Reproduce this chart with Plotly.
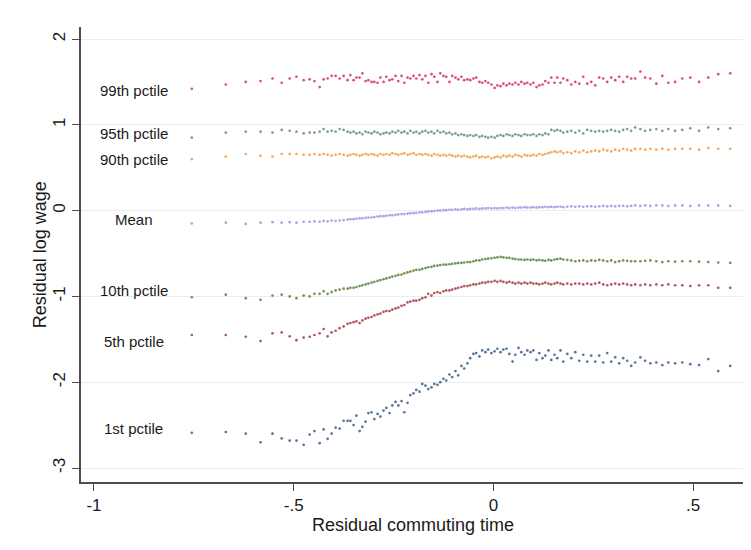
import plotly.graph_objects as go

# ---------------- data ----------------
commute_x = [
    -0.755, -0.670, -0.620, -0.583, -0.553, -0.530, -0.510, -0.493, -0.475, -0.460, -0.448, -0.435, -0.425, -0.415, -0.405, -0.395,
    -0.385, -0.375, -0.365,
    -0.358, -0.350, -0.343, -0.335, -0.328, -0.320, -0.313, -0.305, -0.298, -0.290, -0.283, -0.275,
    -0.268, -0.260, -0.253, -0.245, -0.238, -0.230, -0.223, -0.215, -0.208, -0.200, -0.193, -0.185,
    -0.178, -0.170, -0.163, -0.155, -0.148, -0.140, -0.133, -0.125, -0.118, -0.110, -0.103, -0.095,
    -0.088, -0.080, -0.073, -0.065, -0.058, -0.050, -0.043, -0.035, -0.028, -0.020, -0.013, -0.005,
    0.003, 0.010, 0.018, 0.025, 0.033, 0.040, 0.048, 0.055, 0.063, 0.070, 0.078, 0.085,
    0.093, 0.100, 0.108, 0.115, 0.123, 0.130, 0.138, 0.145, 0.153, 0.160, 0.168, 0.175,
    0.185, 0.195, 0.205, 0.215, 0.225, 0.235, 0.245, 0.255, 0.265, 0.275, 0.285, 0.295, 0.305, 0.315, 0.325, 0.335, 0.345, 0.355,
    0.368, 0.380, 0.393, 0.408, 0.423, 0.438, 0.455, 0.473, 0.493, 0.515, 0.538, 0.563, 0.593,
]

p99 = [
    1.42, 1.47, 1.50, 1.51, 1.54, 1.49, 1.54, 1.56, 1.52, 1.53, 1.51, 1.44, 1.53, 1.54, 1.57, 1.57,
    1.54, 1.57, 1.52,
    1.58, 1.52, 1.55, 1.55, 1.60, 1.51, 1.52, 1.50, 1.50, 1.49, 1.55, 1.50,
    1.56, 1.52, 1.53, 1.57, 1.51, 1.57, 1.49, 1.55, 1.54, 1.57, 1.54, 1.58,
    1.53, 1.57, 1.49, 1.59, 1.56, 1.50, 1.60, 1.57, 1.56, 1.50, 1.57, 1.55,
    1.53, 1.56, 1.52, 1.53, 1.52, 1.54, 1.55, 1.50, 1.49, 1.51, 1.49, 1.47,
    1.43, 1.46, 1.45, 1.48, 1.46, 1.48, 1.47, 1.49, 1.47, 1.50, 1.48, 1.49,
    1.47, 1.49, 1.44, 1.46, 1.47, 1.51, 1.49, 1.55, 1.49, 1.55, 1.49, 1.54,
    1.52, 1.47, 1.50, 1.48, 1.56, 1.48, 1.50, 1.46, 1.55, 1.54, 1.50, 1.55, 1.52, 1.56, 1.50, 1.56, 1.54, 1.54,
    1.62, 1.55, 1.54, 1.48, 1.57, 1.49, 1.50, 1.54, 1.55, 1.50, 1.55, 1.59, 1.60,
]

p95 = [
    0.85, 0.91, 0.92, 0.92, 0.91, 0.94, 0.93, 0.92, 0.90, 0.91, 0.91, 0.92, 0.95, 0.92, 0.93, 0.92,
    0.95, 0.94, 0.92,
    0.91, 0.92, 0.90, 0.91, 0.89, 0.92, 0.91, 0.90, 0.92, 0.91, 0.89, 0.90,
    0.91, 0.90, 0.92, 0.91, 0.93, 0.91, 0.92, 0.90, 0.93, 0.91, 0.92, 0.90,
    0.92, 0.93, 0.91, 0.92, 0.90, 0.93, 0.91, 0.92, 0.90, 0.91, 0.89, 0.90,
    0.88, 0.89, 0.88, 0.87, 0.88, 0.87, 0.88, 0.86, 0.87, 0.86, 0.85, 0.86,
    0.85, 0.87, 0.88, 0.87, 0.89, 0.88, 0.87, 0.89, 0.88, 0.87, 0.89, 0.88,
    0.88, 0.89, 0.87, 0.89, 0.88, 0.90, 0.89, 0.94, 0.93, 0.94, 0.93, 0.91,
    0.92, 0.93, 0.91, 0.93, 0.90, 0.94, 0.93, 0.92, 0.93, 0.92, 0.93, 0.94, 0.93, 0.92, 0.94, 0.95, 0.93, 0.97,
    0.95, 0.93, 0.94, 0.95, 0.93, 0.95, 0.93, 0.94, 0.96, 0.93, 0.97, 0.95, 0.96,
]

p90 = [
    0.60, 0.63, 0.66, 0.64, 0.63, 0.66, 0.66, 0.66, 0.65, 0.65, 0.66, 0.65, 0.66, 0.65, 0.64, 0.65,
    0.66, 0.65, 0.64,
    0.65, 0.66, 0.65, 0.64, 0.65, 0.66, 0.65, 0.66, 0.65, 0.64, 0.66, 0.65,
    0.66, 0.65, 0.67, 0.66, 0.65, 0.66, 0.67, 0.65, 0.66, 0.67, 0.65, 0.66,
    0.65, 0.66, 0.65, 0.64, 0.66, 0.65, 0.64, 0.65, 0.64, 0.65, 0.64, 0.63,
    0.64, 0.63, 0.64, 0.63, 0.62, 0.63, 0.64, 0.62, 0.63, 0.62, 0.63, 0.61,
    0.62, 0.63, 0.62, 0.64, 0.63, 0.64, 0.63, 0.65, 0.64, 0.63, 0.65, 0.64,
    0.64, 0.65, 0.64, 0.66, 0.65, 0.66, 0.67, 0.68, 0.69, 0.68, 0.69, 0.67,
    0.68, 0.67, 0.69, 0.68, 0.70, 0.68, 0.69, 0.70, 0.69, 0.71, 0.70, 0.69, 0.71, 0.70, 0.72, 0.71, 0.70, 0.72,
    0.72, 0.71, 0.72, 0.71, 0.72, 0.71, 0.72, 0.72, 0.72, 0.71, 0.73, 0.72, 0.72,
]

mean = [
    -0.150, -0.140, -0.155, -0.140, -0.135, -0.140, -0.135, -0.140, -0.130, -0.130, -0.125, -0.130, -0.120, -0.125, -0.115, -0.120,
    -0.115, -0.110, -0.105,
    -0.100, -0.100, -0.095, -0.090, -0.090, -0.085, -0.080, -0.080, -0.075, -0.070, -0.065, -0.065,
    -0.060, -0.055, -0.055, -0.050, -0.045, -0.040, -0.040, -0.035, -0.030, -0.030, -0.025, -0.020,
    -0.020, -0.015, -0.010, -0.010, -0.005, 0.000, 0.000, 0.005, 0.005, 0.010, 0.010, 0.015,
    0.010, 0.015, 0.020, 0.015, 0.020, 0.020, 0.025, 0.020, 0.025, 0.025, 0.030, 0.025,
    0.030, 0.025, 0.030, 0.030, 0.035, 0.030, 0.035, 0.030, 0.035, 0.035, 0.040, 0.035,
    0.035, 0.040, 0.035, 0.040, 0.040, 0.045, 0.040, 0.045, 0.040, 0.045, 0.045, 0.040,
    0.045, 0.050, 0.045, 0.050, 0.045, 0.050, 0.050, 0.045, 0.050, 0.055, 0.050, 0.055, 0.050, 0.055, 0.055, 0.050, 0.055, 0.060,
    0.055, 0.060, 0.055, 0.060, 0.060, 0.055, 0.060, 0.060, 0.055, 0.060, 0.060, 0.060, 0.055,
]

p10 = [
    -1.01, -0.98, -1.02, -1.04, -0.99, -0.98, -1.00, -1.02, -0.99, -1.00, -0.97, -0.97, -0.94, -0.97, -0.95, -0.93,
    -0.92, -0.91, -0.91,
    -0.90, -0.90, -0.89, -0.88, -0.87, -0.86, -0.85, -0.84, -0.83, -0.82, -0.81, -0.80,
    -0.79, -0.78, -0.77, -0.76, -0.75, -0.745, -0.73, -0.72, -0.71, -0.70, -0.69, -0.69,
    -0.68, -0.67, -0.66, -0.655, -0.645, -0.64, -0.635, -0.63, -0.63, -0.625, -0.62, -0.615,
    -0.61, -0.61, -0.605, -0.60, -0.60, -0.59, -0.58, -0.58, -0.57, -0.565, -0.56, -0.555,
    -0.55, -0.545, -0.54, -0.545, -0.55, -0.55, -0.56, -0.565, -0.57, -0.57, -0.575, -0.57,
    -0.575, -0.57, -0.58, -0.575, -0.58, -0.585, -0.575, -0.58, -0.57, -0.565, -0.56, -0.57,
    -0.575, -0.58, -0.59, -0.585, -0.58, -0.59, -0.58, -0.585, -0.575, -0.58, -0.59, -0.58, -0.60, -0.59, -0.58, -0.585, -0.59, -0.59,
    -0.59, -0.585, -0.58, -0.59, -0.60, -0.59, -0.595, -0.59, -0.59, -0.595, -0.60, -0.605, -0.61,
]

p5 = [
    -1.45, -1.45, -1.47, -1.52, -1.43, -1.42, -1.465, -1.51, -1.48, -1.47, -1.45, -1.43, -1.38, -1.465, -1.42, -1.40,
    -1.37, -1.35, -1.32,
    -1.31, -1.30, -1.29, -1.31, -1.28, -1.26, -1.25, -1.24, -1.22, -1.21, -1.20, -1.18,
    -1.17, -1.17, -1.155, -1.14, -1.13, -1.11, -1.10, -1.07, -1.06, -1.05, -1.05, -1.04,
    -1.02, -1.01, -0.97, -0.99, -0.96, -0.95, -0.96, -0.94, -0.93, -0.93, -0.92, -0.91,
    -0.90, -0.89, -0.88, -0.88, -0.87, -0.86, -0.86, -0.85, -0.84, -0.84, -0.83, -0.83,
    -0.82, -0.83, -0.82, -0.83, -0.84, -0.83, -0.84, -0.85, -0.84, -0.85, -0.84, -0.85,
    -0.84, -0.85, -0.85, -0.86, -0.85, -0.84, -0.85, -0.86, -0.85, -0.84, -0.85, -0.86,
    -0.85, -0.86, -0.85, -0.85, -0.86, -0.85, -0.86, -0.85, -0.84, -0.86, -0.87, -0.86, -0.85, -0.86, -0.85, -0.86, -0.87, -0.86,
    -0.87, -0.86, -0.87, -0.86, -0.87, -0.86, -0.87, -0.87, -0.88, -0.87, -0.87, -0.90, -0.90,
]

p1 = [
    -2.59, -2.58, -2.60, -2.70, -2.60, -2.655, -2.68, -2.68, -2.73, -2.61, -2.57, -2.71, -2.55, -2.66, -2.60, -2.53,
    -2.54, -2.45, -2.45,
    -2.45, -2.50, -2.39, -2.57, -2.52, -2.46, -2.36, -2.35, -2.43, -2.37, -2.40, -2.33,
    -2.30, -2.36, -2.27, -2.23, -2.27, -2.22, -2.35, -2.24, -2.15, -2.13, -2.09, -2.11,
    -2.02, -2.04, -2.08, -2.06, -2.02, -2.03, -2.00, -1.96, -1.98, -1.91, -1.94, -1.87,
    -1.92, -1.81, -1.84, -1.78, -1.72, -1.67, -1.66, -1.70, -1.63, -1.65, -1.62, -1.66,
    -1.64, -1.61, -1.65, -1.62, -1.61, -1.67, -1.76, -1.68, -1.60, -1.65, -1.68, -1.63,
    -1.65, -1.63, -1.74, -1.66, -1.72, -1.69, -1.63, -1.74, -1.68, -1.72, -1.63, -1.76,
    -1.67, -1.72, -1.65, -1.75, -1.68, -1.76, -1.69, -1.76, -1.69, -1.77, -1.66, -1.76, -1.71, -1.78, -1.72, -1.75, -1.81, -1.77,
    -1.71, -1.75, -1.78, -1.77, -1.80, -1.77, -1.78, -1.77, -1.79, -1.80, -1.73, -1.87, -1.81,
]

series_names = ["99th pctile", "95th pctile", "90th pctile", "Mean", "10th pctile", "5th pctile", "1st pctile"]
series_values = [p99, p95, p90, mean, p10, p5, p1]
series_colors = ["#d3224f", "#5c8679", "#f29231", "#938de0", "#50782a", "#9b3036", "#2f5282"]

label_x = [-0.90, -0.90, -0.90, -0.90, -0.90, -0.90, -0.90]
label_y = [1.40, 0.895, 0.593, -0.105, -0.93, -1.52, -2.535]

x_tickvals = [-1, -0.5, 0, 0.5]
x_ticktext = ["-1", "-.5", "0", ".5"]
y_tickvals = [-3, -2, -1, 0, 1, 2]
y_ticktext = ["-3", "-2", "-1", "0", "1", "2"]

# ---------------- figure ----------------
fig = go.Figure()
for name, vals, col in zip(series_names, series_values, series_colors):
    fig.add_trace(go.Scatter(
        x=commute_x, y=vals, mode="markers", name=name,
        marker=dict(size=2.7, color=col, opacity=0.8, line=dict(width=0)),
        showlegend=False,
    ))

for name, lx, ly in zip(series_names, label_x, label_y):
    fig.add_annotation(x=lx, y=ly, text=name, showarrow=False,
                       xanchor="center", yanchor="middle",
                       font=dict(family="Liberation Sans, Arial", size=15, color="#1a1a1a"))

axis_font = dict(family="Liberation Sans, Arial", size=17, color="#1a1a1a")
title_font = dict(family="Liberation Sans, Arial", size=18, color="#1a1a1a")

# y-axis title placed as a rotated annotation for precise positioning
fig.add_annotation(xref="paper", yref="paper", x=-0.062, y=0.5,
                   text="Residual log wage", textangle=-90, showarrow=False,
                   xanchor="center", yanchor="middle", font=title_font)

fig.update_layout(
    width=751, height=550,
    margin=dict(l=73, r=14, t=19, b=76),
    paper_bgcolor="white", plot_bgcolor="white",
    font=axis_font,
    xaxis=dict(
        range=[-1.0325, 0.63], tickvals=x_tickvals, ticktext=x_ticktext,
        showgrid=False, zeroline=False, showline=True, linecolor="#4d4d4d", linewidth=1.5,
        ticks="outside", ticklen=7, tickwidth=1.2, tickcolor="#4d4d4d",
        tickfont=axis_font, automargin=False,
        title=dict(text="Residual commuting time", font=title_font, standoff=0),
    ),
    yaxis=dict(
        range=[-3.163, 2.14], tickvals=y_tickvals, ticktext=y_ticktext, tickangle=-90,
        showgrid=True, gridcolor="#e6eef0", gridwidth=1.2,
        zeroline=False, showline=True, linecolor="#4d4d4d", linewidth=1.5,
        ticks="outside", ticklen=7, tickwidth=1.2, tickcolor="#4d4d4d",
        tickfont=axis_font, automargin=False,
    ),
)

fig.write_html("out.html")
